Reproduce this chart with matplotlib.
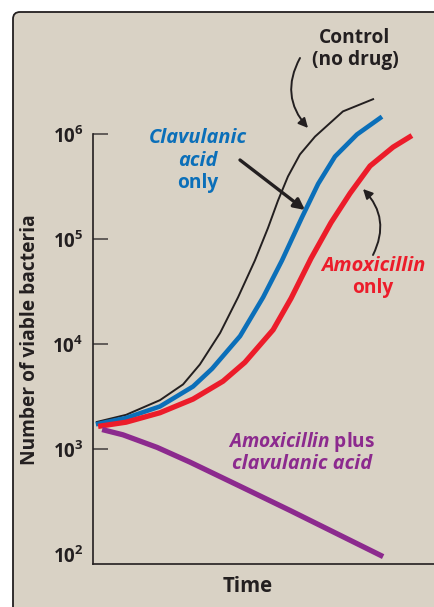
import matplotlib
matplotlib.use('Agg')
import numpy as np
import matplotlib.pyplot as plt
from matplotlib.patches import FancyBboxPatch
from matplotlib.transforms import IdentityTransform

plt.rcParams['font.family'] = ['Open Sans', 'DejaVu Sans']
plt.rcParams['mathtext.fontset'] = 'custom'
plt.rcParams['mathtext.rm'] = 'Open Sans:bold'
plt.rcParams['mathtext.bf'] = 'Open Sans:bold'
plt.rcParams['mathtext.it'] = 'Open Sans:bold:italic'

# time (arbitrary units) and log10(number of viable bacteria)
control_t = [0.1, 1.16, 2.35, 3.16, 3.75, 4.46, 5.09, 5.68, 6.14, 6.49,
             6.84, 7.26, 7.79, 8.77, 9.86]
control_log = [3.26, 3.33, 3.47, 3.62, 3.81, 4.11, 4.45, 4.80, 5.11, 5.37,
               5.60, 5.81, 5.98, 6.22, 6.34]

clav_t = [0.1, 1.16, 2.35, 3.51, 4.18, 5.16, 5.97, 6.63, 7.33, 7.9,
          8.49, 9.26, 10.14]
clav_log = [3.24, 3.30, 3.41, 3.60, 3.77, 4.08, 4.45, 4.80, 5.21, 5.53,
            5.79, 6.00, 6.17]

amox_t = [0.18, 1.16, 2.35, 3.51, 4.56, 5.33, 6.32, 6.95, 7.65, 8.35,
          9.02, 9.72, 10.53, 11.19]
amox_log = [3.22, 3.26, 3.35, 3.48, 3.65, 3.83, 4.14, 4.44, 4.82, 5.16,
            5.44, 5.70, 5.88, 5.99]

combo_t = [0.32, 1.05, 2.25, 3.4, 5.16, 6.91, 10.18]
combo_log = [3.19, 3.14, 3.02, 2.88, 2.65, 2.42, 1.98]

ytick_exp = [2, 3, 4, 5, 6]

W, H = 435, 607
BLACK = '#231f20'
BLUE = '#0b6fb9'
RED = '#ec1c2a'
PURPLE = '#8c2a8e'
BG = '#d9d2c5'

fig = plt.figure(figsize=(W / 100, H / 100), dpi=100)
fig.patch.set_facecolor('white')

# rounded beige panel, running off the right and bottom edges
panel = FancyBboxPatch((13, -40), 500, (H - 12) + 40,
                       boxstyle='round,pad=0,rounding_size=7',
                       transform=IdentityTransform(), facecolor=BG,
                       edgecolor=BLACK, linewidth=1.3, zorder=-10)
fig.add_artist(panel)

ax = fig.add_axes([93 / W, (H - 564) / H, (W - 93) / W, (564 - 60) / H])
ax.set_facecolor('none')
ax.set_yscale('log')
ax.set_xlim(0, 12)
ymin, ymax = 10 ** 1.9095, 10 ** 6.7095
ax.set_ylim(ymin, ymax)

ax.plot(control_t, 10 ** np.array(control_log), color=BLACK, lw=1.4,
        solid_capstyle='butt', solid_joinstyle='round')
ax.plot(clav_t, 10 ** np.array(clav_log), color=BLUE, lw=3.3,
        solid_capstyle='butt', solid_joinstyle='round')
ax.plot(amox_t, 10 ** np.array(amox_log), color=RED, lw=3.8,
        solid_capstyle='butt', solid_joinstyle='round')
ax.plot(combo_t, 10 ** np.array(combo_log), color=PURPLE, lw=3.8,
        solid_capstyle='butt', solid_joinstyle='round')

for s in ['top', 'right']:
    ax.spines[s].set_visible(False)
for s in ['left', 'bottom']:
    ax.spines[s].set_color(BLACK)
    ax.spines[s].set_linewidth(1.2)
ax.spines['left'].set_bounds(ymin, 1e6)

ax.set_xticks([])
ax.set_yticks([10.0 ** e for e in ytick_exp])
ax.set_yticklabels([r'$\mathbf{10^{%d}}$' % e for e in ytick_exp])
ax.yaxis.set_minor_locator(matplotlib.ticker.NullLocator())
ax.tick_params(axis='y', direction='in', length=11, width=1.2, color='#4d4948',
               pad=7, labelsize=13.5, labelcolor=BLACK)
ax.yaxis.get_major_ticks()[0].tick1line.set_visible(False)


def put(x, y, s, color=BLACK, style='normal', size=13.8, **kw):
    fig.text(x / W, 1 - y / H, s, color=color, fontweight='bold',
             fontstyle=style, fontsize=size, ha='center', va='center', **kw)


put(30, 340, 'Number of viable bacteria', rotation=90)
put(248, 587, 'Time', size=14.8)

put(355, 38, 'Control')
put(355, 60, '(no drug)')

put(198, 138, 'Clavulanic', BLUE, 'italic', 14.4)
put(198, 161, 'acid', BLUE, 'italic', 14.4)
put(198, 183, 'only', BLUE)

put(373, 266, 'Amoxicillin', RED, 'italic', 14.4)
put(373, 288, 'only', RED)

put(302, 442, r'$\mathit{Amoxicillin}$ plus', PURPLE)
put(302, 464, 'clavulanic acid', PURPLE, 'italic', 14.4)


def arrow(tail, head, rad, lw, scale):
    ax.annotate('', xy=(head[0], H - head[1]), xycoords='figure pixels',
                xytext=(tail[0], H - tail[1]), textcoords='figure pixels',
                arrowprops=dict(arrowstyle='-|>', color=BLACK, lw=lw,
                                mutation_scale=scale,
                                connectionstyle='arc3,rad=%s' % rad,
                                shrinkA=0, shrinkB=0))


arrow((300, 58), (308, 128), 0.35, 1.4, 14)
arrow((240, 160), (305, 210), 0.0, 2.4, 16)
arrow((373, 255), (363, 189), 0.35, 1.4, 14)

fig.savefig('out.png', dpi=100)
